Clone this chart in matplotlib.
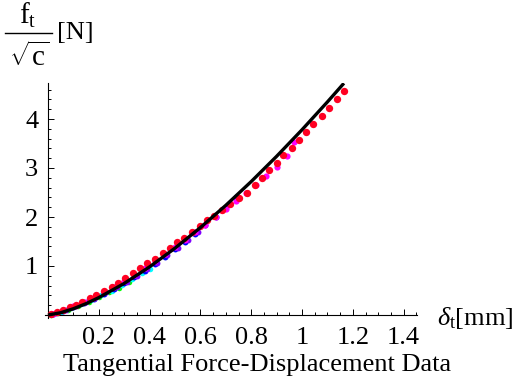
import matplotlib
matplotlib.use("Agg")
import matplotlib.pyplot as plt
from matplotlib.lines import Line2D
from matplotlib.ticker import MultipleLocator, FixedLocator

plt.rcParams['font.family'] = ['Liberation Serif', 'DejaVu Serif']
plt.rcParams['mathtext.fontset'] = 'custom'
plt.rcParams['mathtext.rm'] = 'Liberation Serif'
plt.rcParams['mathtext.it'] = 'Liberation Serif:italic'

# measured data sets (displacement mm, force/sqrt(c) N)
red_x = [0.01, 0.035, 0.06, 0.085, 0.11, 0.135, 0.165, 0.19, 0.22, 0.25, 0.275,
         0.305, 0.333, 0.362, 0.388, 0.421, 0.451, 0.480, 0.507, 0.535, 0.566,
         0.598, 0.625, 0.655, 0.685, 0.715, 0.75, 0.782, 0.814, 0.841, 0.871,
         0.900, 0.926, 0.959, 0.987, 1.016, 1.045, 1.078, 1.108, 1.139, 1.167]
red_y = [0.02, 0.06, 0.11, 0.16, 0.21, 0.27, 0.34, 0.41, 0.49, 0.58, 0.66,
         0.76, 0.86, 0.95, 1.06, 1.14, 1.26, 1.36, 1.48, 1.57, 1.69,
         1.82, 1.93, 2.03, 2.14, 2.26, 2.38, 2.50, 2.65, 2.80, 2.96,
         3.11, 3.27, 3.41, 3.57, 3.73, 3.89, 4.06, 4.22, 4.40, 4.57]

magenta_x = [0.02, 0.06, 0.10, 0.14, 0.18, 0.22, 0.26, 0.30, 0.34, 0.38, 0.42, 0.46,
             0.50, 0.54, 0.58, 0.62, 0.66, 0.70, 0.74, 0.78, 0.82, 0.86, 0.90, 0.94, 0.97]
magenta_y = [0.03, 0.10, 0.18, 0.26, 0.35, 0.46, 0.57, 0.69, 0.81, 0.95, 1.10, 1.25,
             1.39, 1.54, 1.69, 1.84, 2.00, 2.16, 2.33, 2.48, 2.66, 2.84, 3.02, 3.24, 3.54]

blue_x = [0.02, 0.06, 0.10, 0.14, 0.18, 0.22, 0.26, 0.30, 0.34, 0.38,
          0.42, 0.46, 0.50, 0.54, 0.58, 0.62, 0.66, 0.70, 0.74]
blue_y = [0.03, 0.09, 0.16, 0.24, 0.33, 0.43, 0.53, 0.65, 0.77, 0.90,
          1.04, 1.19, 1.34, 1.49, 1.66, 1.83, 2.01, 2.20, 2.40]

purple_x = [0.03, 0.07, 0.11, 0.15, 0.19, 0.23, 0.27, 0.31, 0.35, 0.39,
            0.43, 0.47, 0.51, 0.55, 0.59]
purple_y = [0.04, 0.11, 0.18, 0.27, 0.36, 0.46, 0.57, 0.68, 0.80, 0.93,
            1.07, 1.22, 1.37, 1.53, 1.69]

cyan_x = [0.01, 0.05, 0.09, 0.13, 0.17, 0.21, 0.25, 0.29, 0.33, 0.37, 0.40]
cyan_y = [0.02, 0.07, 0.14, 0.22, 0.31, 0.40, 0.50, 0.61, 0.73, 0.85, 0.94]

green_x = [0.01, 0.04, 0.08, 0.12, 0.16, 0.20, 0.24, 0.28, 0.32]
green_y = [0.01, 0.05, 0.11, 0.18, 0.27, 0.36, 0.46, 0.56, 0.67]

# fitted model curve
fit_x = [0.0, 0.05, 0.1, 0.15, 0.2, 0.3, 0.4, 0.5, 0.6, 0.7, 0.8, 0.9, 1.0, 1.1, 1.165]
fit_y = [0.0, 0.046, 0.128, 0.232, 0.355, 0.644, 0.983, 1.364, 1.784, 2.238,
         2.723, 3.238, 3.78, 4.348, 4.73]

fig = plt.figure(figsize=(5.18, 3.81), dpi=100)
ax = fig.add_axes([45 / 518, 63 / 381, 372 / 518, 235 / 381])

ax.scatter(green_x, green_y, s=16, color='#00ff00', lw=0, zorder=2)
ax.scatter(cyan_x, cyan_y, s=16, color='#00ffff', lw=0, zorder=2)
ax.scatter(blue_x, blue_y, s=18, color='#0000ff', lw=0, zorder=2)
ax.scatter(purple_x, purple_y, s=18, color='#8000ff', lw=0, zorder=2)
ax.scatter(magenta_x, magenta_y, s=20, color='#ff00ff', lw=0, zorder=3)
ax.scatter(red_x, red_y, s=28, color='#ff0022', lw=0, zorder=4)
ax.plot(fit_x, fit_y, color='black', lw=2.4, zorder=5, solid_capstyle='butt')

ax.set_xlim(-3 / 254, 369 / 254)
ax.set_ylim(-3 / 49, 232 / 49)

for s in ['top', 'right']:
    ax.spines[s].set_visible(False)
ax.spines['left'].set_position(('data', 0))
ax.spines['bottom'].set_position(('data', 0))
ax.spines['left'].set_linewidth(0.8)
ax.spines['bottom'].set_linewidth(0.8)

ax.xaxis.set_major_locator(FixedLocator([0.2, 0.4, 0.6, 0.8, 1.0, 1.2, 1.4]))
ax.set_xticklabels(["0.2", "0.4", "0.6", "0.8", "1", "1.2", "1.4"])
ax.xaxis.set_minor_locator(MultipleLocator(0.05))
ax.yaxis.set_major_locator(FixedLocator([1, 2, 3, 4]))
ax.set_yticklabels(["1", "2", "3", "4"])
ax.yaxis.set_minor_locator(MultipleLocator(0.2))

ax.tick_params(which='both', direction='in', width=0.7, labelsize=19)
ax.tick_params(which='major', length=4)
ax.tick_params(which='minor', length=2.2)
ax.tick_params(axis='x', pad=9)
ax.tick_params(axis='y', pad=7)

# y label: f_t over sqrt(c), then [N]
H = 381
fig.text(28 / 518, 1 - 24 / H, r'f$_\mathrm{t}$', fontsize=21, ha='center', va='baseline')
fig.add_artist(Line2D([5 / 518, 52 / 518], [1 - 33 / H, 1 - 33 / H],
                      transform=fig.transFigure, color='black', lw=1.0))
fig.text(29 / 518, 1 - 66 / H, r'$\sqrt{\mathrm{c}}$', fontsize=21, ha='center', va='baseline')
fig.text(57 / 518, 1 - 33 / H, '[N]', fontsize=19, ha='left', va='center')

fig.text(437 / 518, 1 - 318 / H, r'$\delta_\mathrm{t}$[mm]',
         fontsize=19, ha='left', va='center')
fig.text(257 / 518, 1 - 371 / H, "Tangential Force-Displacement Data",
         fontsize=19, ha='center', va='baseline')

fig.savefig("out.png", dpi=100)
